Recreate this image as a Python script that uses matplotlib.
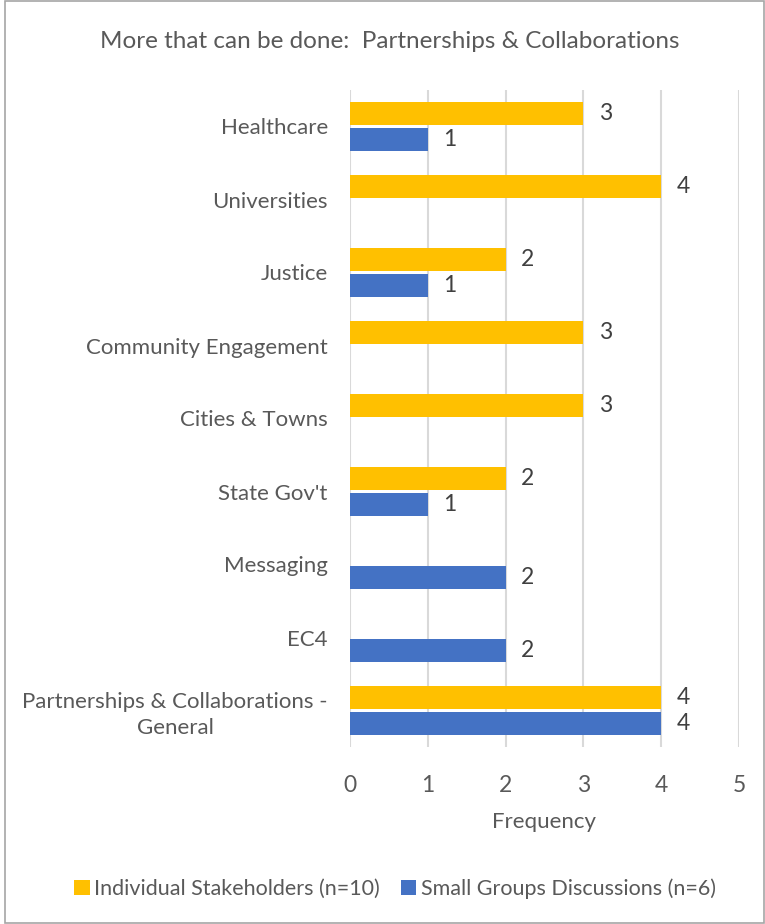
import numpy as np
import matplotlib
matplotlib.use("Agg")
import matplotlib.pyplot as plt
from matplotlib.patches import Rectangle

categories = ["Healthcare", "Universities", "Justice", "Community Engagement",
              "Cities & Towns", "State Gov't", "Messaging", "EC4",
              "Partnerships & Collaborations -\nGeneral"]
individual = [3, 4, 2, 3, 3, 2, 0, 0, 4]
small_groups = [1, 0, 1, 0, 0, 1, 2, 2, 4]
xticks = [0, 1, 2, 3, 4, 5]

plt.rcParams['font.family'] = ['Lato', 'DejaVu Sans']
txt = '#595959'
orange = '#FFC000'
blue = '#4472C4'

fig = plt.figure(figsize=(7.65, 9.24), dpi=100)
ax = fig.add_axes([350/765, 1 - 747/924, 389/765, 657/924])

y = np.arange(len(categories))
h = 0.32
off = 0.175
ax.barh(y - off, individual, height=h, color=orange, label="Individual Stakeholders (n=10)", zorder=3)
ax.barh(y + off, small_groups, height=h, color=blue, label="Small Groups Discussions (n=6)", zorder=3)

# data labels, zeros left blank like the original
for yi, v in zip(y, individual):
    if v:
        ax.text(v + 0.2, yi - off, str(v), va='center', ha='left', fontsize=16.5, color='#404040')
for yi, v in zip(y, small_groups):
    if v:
        ax.text(v + 0.2, yi + off, str(v), va='center', ha='left', fontsize=16.5, color='#404040')

ax.set_ylim(len(categories) - 0.5, -0.5)
ax.set_xlim(0, 5)
ax.set_xticks(xticks)
ax.set_yticks(y)
ax.set_yticklabels(categories, fontsize=16, color=txt, ha='right', multialignment='center',
                   linespacing=1.35)
ax.tick_params(axis='x', labelsize=16.5, colors=txt, length=0, pad=20)
ax.tick_params(axis='y', length=0, pad=16)
for s in ax.spines.values():
    s.set_visible(False)
ax.grid(axis='x', color='#D9D9D9', linewidth=1.5, zorder=0)
ax.set_xlabel("Frequency", fontsize=16, color=txt, labelpad=12)

fig.text(390/765, 1 - 42/924, "More that can be done:  Partnerships & Collaborations",
         ha='center', va='center', fontsize=17.5, color=txt)

handles, labels = ax.get_legend_handles_labels()
fig.legend(handles, labels, loc='center', bbox_to_anchor=(395/765, 1 - 889/924), ncol=2,
           frameon=False, fontsize=15.5, labelcolor=txt, handlelength=0.7, handleheight=0.7,
           handletextpad=0.2, columnspacing=1.0)

fig.add_artist(Rectangle((5/765, 0.001), 759/765, 0.998, transform=fig.transFigure,
                         fill=False, edgecolor='#A6A6A6', linewidth=1.2))

fig.savefig("out.png", dpi=100)
